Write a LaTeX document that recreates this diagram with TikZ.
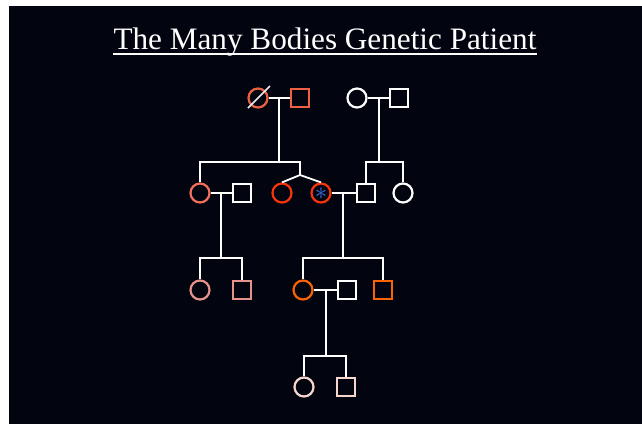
\documentclass[tikz,border=0pt]{standalone}
\usepackage{fontspec}
\setmainfont{Liberation Serif}
\usepackage{tikz}
\usetikzlibrary{positioning}

\definecolor{bgnavy}{RGB}{2,4,16}
\definecolor{coral}{RGB}{238,98,66}
\definecolor{salmon}{RGB}{240,112,90}
\definecolor{redorange}{RGB}{250,52,10}
\definecolor{rosy}{RGB}{228,146,138}
\definecolor{pumpkin}{RGB}{250,98,4}
\definecolor{blush}{RGB}{246,214,206}
\definecolor{starblue}{RGB}{64,112,232}

\tikzset{
	female/.style={circle,draw,line width=2.2pt,minimum size=19pt,inner sep=0pt},
	male/.style={rectangle,draw,line width=2.2pt,minimum size=18.5pt,inner sep=0pt},
	tie/.style={white,line width=1.8pt}
}

\begin{document}
\begin{tikzpicture}[x=1pt,y=-1pt]
	\fill[white] (0,0) rectangle (642,424);
	\fill[bgnavy] (9,6) rectangle (642,424);
	\node[white,anchor=base,inner sep=0pt,font=\fontsize{31.2}{36}\selectfont] (title) at (325,49) {The Many Bodies Genetic Patient};
	\draw[white,line width=1.5pt] ([yshift=-5pt]title.base west) -- ([yshift=-5pt]title.base east);
	% first generation
	\node[female,coral] (g1a) at (258,98) {};
	\node[male,coral] (g1b) at (300,98) {};
	\node[female,white] (g1c) at (357,98) {};
	\node[male,white] (g1d) at (399,98) {};
	\draw[white!85!gray,line width=1.5pt] ([shift={(-10,10)}]g1a.center) -- ([shift={(12,-12)}]g1a.center);
	\draw[tie] (g1a) -- (g1b);
	\draw[tie] (g1c) -- (g1d);
	% second generation
	\node[female,salmon] (g2a) at (200,193) {};
	\node[male,white] (g2b) at (242,193) {};
	\node[female,redorange] (g2c) at (282,193) {};
	\node[female,redorange] (g2d) at (321,193) {};
	\node[text=starblue,inner sep=0pt,font=\fontsize{30}{30}\selectfont] (star) at (321,194) {$\ast$};
	\node[male,white] (g2e) at (366,193) {};
	\node[female,white] (g2f) at (403,193) {};
	\draw[tie] (g2a) -- (g2b);
	\draw[tie] (g2d) -- (g2e);
	% third generation
	\node[female,rosy] (g3a) at (200,290) {};
	\node[male,rosy] (g3b) at (242,290) {};
	\node[female,pumpkin] (g3c) at (303,290) {};
	\node[male,white] (g3d) at (347,290) {};
	\node[male,pumpkin] (g3e) at (383,290) {};
	\draw[tie] (g3c) -- (g3d);
	% fourth generation
	\node[female,blush] (g4a) at (304,387) {};
	\node[male,blush] (g4b) at (346,387) {};
	% descent lines
	\coordinate (d1) at (279,98);
	\coordinate (d2) at (379,98);
	\coordinate (d3) at (221,193);
	\coordinate (d4) at (343,193);
	\coordinate (d5) at (326,290);
	\coordinate (tw) at (300,175);
	\draw[tie] (d1) -- (279,162);
	\draw[tie] (g2a.north) |- (300,162) -- (tw);
	\draw[tie] (g2c.north) -- (tw) -- (g2d.north);
	\draw[tie] (d2) -- (379,162);
	\draw[tie] (g2e.north) |- (g2f.north |- 0,162) -- (g2f.north);
	\draw[tie] (d3) -- (221,258);
	\draw[tie] (g3a.north) |- (g3b.north |- 0,258) -- (g3b.north);
	\draw[tie] (d4) -- (343,258);
	\draw[tie] (g3c.north) |- (g3e.north |- 0,258) -- (g3e.north);
	\draw[tie] (d5) -- (326,356);
	\draw[tie] (g4a.north) |- (g4b.north |- 0,356) -- (g4b.north);
\end{tikzpicture}
\end{document}
